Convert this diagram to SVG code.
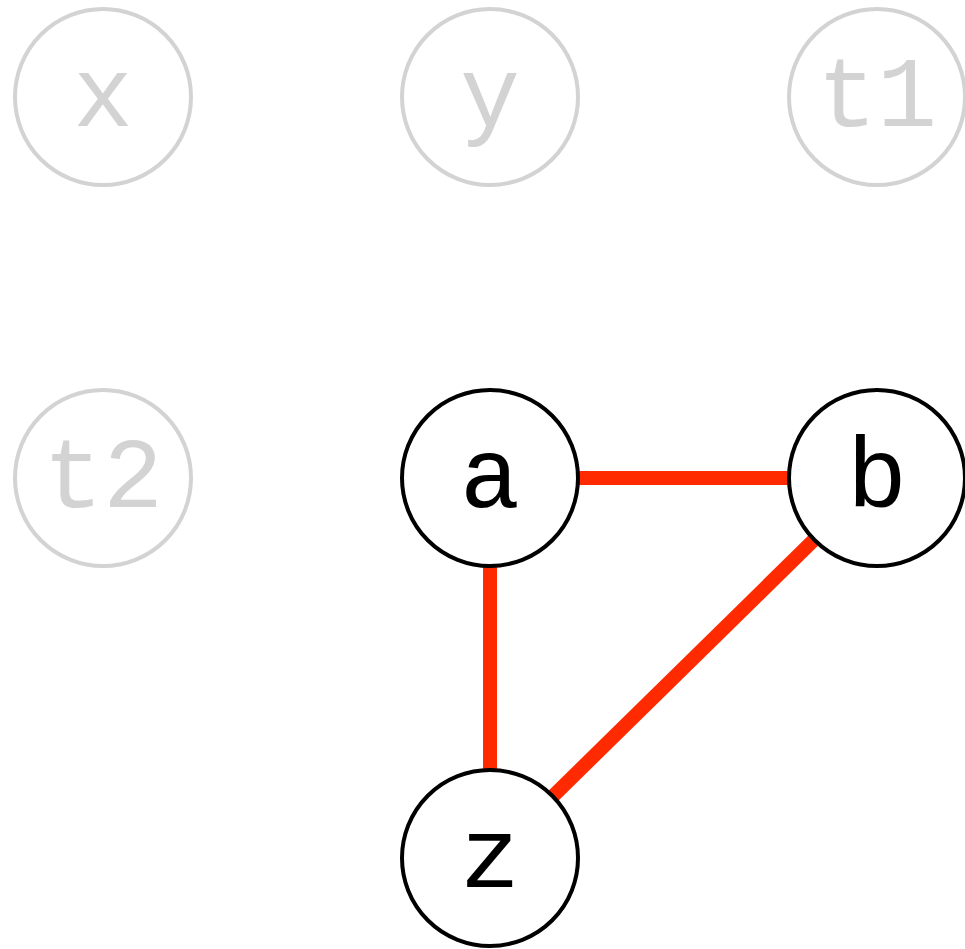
<svg xmlns="http://www.w3.org/2000/svg" width="965" height="949" viewBox="0 0 965 949">
<style>
.n circle{fill:#fff;stroke-width:4}
.n text{font-family:"Liberation Mono","Courier New",monospace;font-size:100px;text-anchor:middle}
.dim circle{stroke:#d3d3d3}
.dim text{fill:#d3d3d3}
.act circle{stroke:#000}
.act text{fill:#000}
.e line{stroke:#ff2a00;stroke-width:14}
</style>
<rect width="965" height="949" fill="#fff"/>
<g id="edges" class="e">
<line x1="490" y1="478" x2="877" y2="478"/>
<line x1="490" y1="478" x2="490" y2="858"/>
<line x1="877" y1="478" x2="490" y2="858"/>
</g>
<g id="node-x" class="n dim"><circle cx="103" cy="97" r="88"/><text x="103" y="126">x</text></g>
<g id="node-y" class="n dim"><circle cx="490" cy="97" r="88"/><text x="490" y="126">y</text></g>
<g id="node-t1" class="n dim"><circle cx="877" cy="97" r="88"/><text x="877" y="126">t1</text></g>
<g id="node-t2" class="n dim"><circle cx="103" cy="478" r="88"/><text x="103" y="507">t2</text></g>
<g id="node-a" class="n act"><circle cx="490" cy="478" r="88"/><text x="490" y="507">a</text></g>
<g id="node-b" class="n act"><circle cx="877" cy="478" r="88"/><text x="877" y="507">b</text></g>
<g id="node-z" class="n act"><circle cx="490" cy="858" r="88"/><text x="490" y="887">z</text></g>
</svg>
